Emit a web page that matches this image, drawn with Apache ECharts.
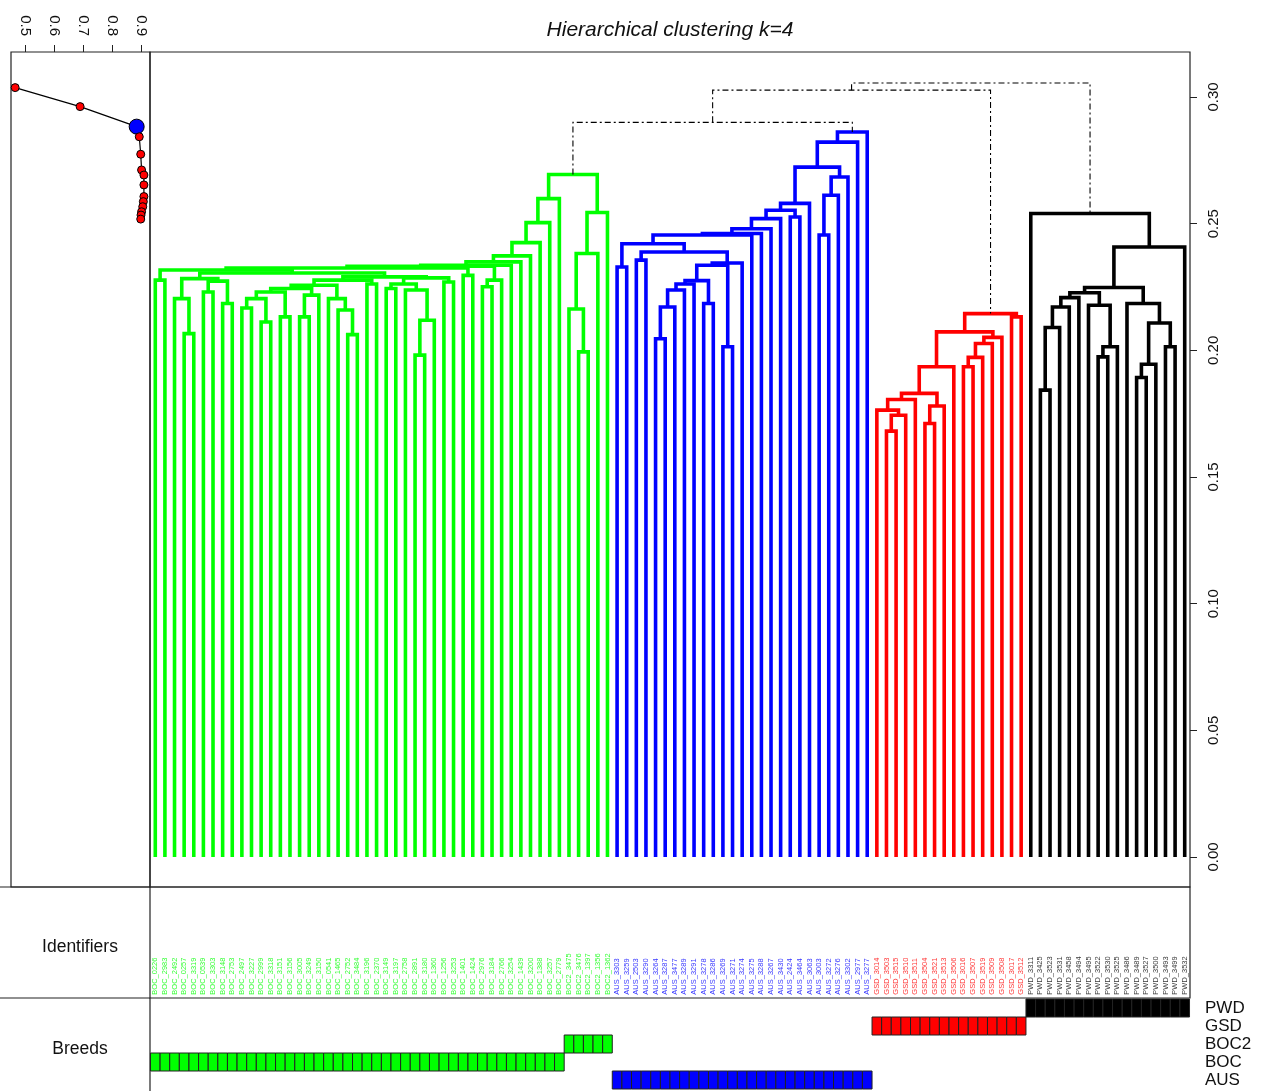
<!DOCTYPE html>
<html>
<head>
<meta charset="utf-8">
<script src="https://cdn.jsdelivr.net/npm/echarts@6/dist/echarts.min.js"></script>
<style>
html, body { margin: 0; padding: 0; background: #fff; }
#main { width: 1266px; height: 1091px; }
</style>
</head>
<body>
<div id="main"></div>
<script>
// leaf labels, left to right, one list per cluster
var greenLabels = ['BOC_0226','BOC_2983','BOC_2492','BOC_0257','BOC_3319','BOC_0539','BOC_3303','BOC_3148','BOC_2753','BOC_2497',
  'BOC_3227','BOC_2999','BOC_3318','BOC_3151','BOC_3156','BOC_3005','BOC_3249','BOC_3150','BOC_0541','BOC_1465',
  'BOC_2752','BOC_3484','BOC_3196','BOC_2370','BOC_3149','BOC_3197','BOC_2758','BOC_2891','BOC_3180','BOC_1360',
  'BOC_1256','BOC_3253','BOC_1401','BOC_1424','BOC_2976','BOC_3184','BOC_2766','BOC_3254','BOC_1439','BOC_3200',
  'BOC_1388','BOC_3257','BOC_2779','BOC2_3475','BOC2_3476','BOC2_1397','BOC2_1356','BOC2_1362'];
var blueLabels = ['AUS_3303','AUS_3259','AUS_2503','AUS_3290','AUS_3264','AUS_3287','AUS_3477','AUS_3289','AUS_3291','AUS_3278',
  'AUS_3286','AUS_3269','AUS_3271','AUS_3274','AUS_3275','AUS_3288','AUS_3267','AUS_3430','AUS_2424','AUS_3464',
  'AUS_3063','AUS_3003','AUS_3272','AUS_3276','AUS_3302','AUS_2977','AUS_3277'];
var redLabels = ['GSD_3014','GSD_3503','GSD_3515','GSD_3510','GSD_3511','GSD_3504','GSD_3521','GSD_3513','GSD_3506','GSD_3016',
  'GSD_3507','GSD_3519','GSD_3509','GSD_3508','GSD_3017','GSD_3512'];
var blackLabels = ['PWD_3311','PWD_3425','PWD_3523','PWD_3531','PWD_3458','PWD_3494','PWD_3495','PWD_3522','PWD_3530','PWD_3525',
  'PWD_3486','PWD_3489','PWD_3527','PWD_3500','PWD_3493','PWD_3499','PWD_3532'];

// merges as [height, left, right]; a number is a leaf (position inside its cluster)
var greenTree = [0.2694,
  [0.2599, [0.2504, [0.2425, [0.2373, [0.2349, [0.2336,
    [0.2332,
      [0.2325,
        [0.2317, [0.2277, 0, 1],
          [0.2305,
            [0.2283, [0.2204, 2, [0.2066, 3, 4]], [0.2273, [0.2230, 5, 6], [0.2185, 7, 8]]],
            [0.2290,
              [0.2277,
                [0.2257,
                  [0.2244, [0.2230, [0.2204, [0.2167, 9, 10], [0.2112, 11, 12]], [0.2132, 13, 14]], [0.2218, [0.2132, 15, 16], 17]],
                  [0.2204, 18, [0.2159, 19, [0.2062, 20, 21]]]],
                [0.2262, 22, 23]],
              [0.2286, [0.2262, [0.2244, 24, 25], [0.2238, 26, [0.2119, [0.1981, 27, 28], 29]]], [0.2270, 30, 31]]]]],
        [0.2296, 32, 33]],
      [0.2277, [0.2251, 34, 35], 36]],
    37], 38], 39], 40], 41], 42],
  [0.2544, [0.2382, [0.2163, 43, [0.1994, 44, 45]], 46], 47]];

var blueTree = [0.2862,
  [0.2822,
    [0.2723,
      [0.2580,
        [0.2553,
          [0.2520, [0.2480, [0.2461, [0.2455,
            [0.2421, [0.2329, 0, 1],
              [0.2388, [0.2356, 2, 3],
                [0.2345,
                  [0.2336,
                    [0.2275, [0.2262, [0.2238, [0.2171, [0.2046, 4, 5], 6], 7], 8], [0.2185, 9, 10]],
                    [0.2014, 11, 12]],
                  13]]],
            14], 15], 16], 17],
          [0.2526, 18, 19]],
        20],
      [0.2684, [0.2612, [0.2455, 21, 22], 23], 24]],
    25],
  26];

var redTree = [0.2145,
  [0.2073,
    [0.1935,
      [0.1830,
        [0.1806, [0.1764, 0, [0.1744, [0.1681, 1, 2], 3]], 4],
        [0.1780, [0.1711, 5, 6], 7]],
      8],
    [0.2051, [0.2027, [0.1972, [0.1935, 9, 10], 11], 12], 13]],
  [0.2132, 14, 15]];

var blackTree = [0.2540,
  0,
  [0.2408,
    [0.2248,
      [0.2227,
        [0.2208, [0.2171, [0.2090, [0.1843, 1, 2], 3], 4], 5],
        [0.2178, 6, [0.2014, [0.1974, 7, 8], 9]]],
      [0.2185, 10, [0.2108, [0.1945, [0.1893, 11, 12], 13], [0.2014, 14, 15]]]],
    16]];

// joins above the four clusters: green+blue, then +red, then +black
var topHeights = [0.2900, 0.3027, 0.3055];

// left panel: score for k = 2, 3, 4, ... drawn at the cut level
var kScores = [0.465, 0.689, 0.884, 0.893, 0.898, 0.901, 0.909, 0.909, 0.909, 0.907, 0.905, 0.901, 0.899, 0.898];
var kLevels = [0.3037, 0.2962, 0.2883, 0.2843, 0.2774, 0.2712, 0.2692, 0.2653, 0.2607, 0.2587, 0.2567, 0.2547, 0.2534, 0.2518];
var bestK = 4;

var breedNames = ['AUS', 'BOC', 'BOC2', 'GSD', 'PWD'];
var breedColors = ['#0000ff', '#00ff00', '#00ff00', '#ff0000', '#000000'];
var clusterColors = ['#00ff00', '#0000ff', '#ff0000', '#000000'];

var yMin = -0.01184, yMax = 0.31776;
var xMin = -0.55, xMax = 107.55;
var font = 'Liberation Sans, Arial, Helvetica, sans-serif';

function walk(node, offset, segs) {
    if (typeof node === 'number') return { x: offset + node, h: 0 };
    var a = walk(node[1], offset, segs);
    var b = walk(node[2], offset, segs);
    segs.push({ coords: [[a.x, a.h], [a.x, node[0]], [b.x, node[0]], [b.x, b.h]] });
    return { x: (a.x + b.x) / 2, h: node[0] };
}

var clusters = [
    { tree: greenTree, labels: greenLabels },
    { tree: blueTree, labels: blueLabels },
    { tree: redTree, labels: redLabels },
    { tree: blackTree, labels: blackLabels }
];

var series = [];
var roots = [];
var idData = [];
var breedData = [];
var offset = 0;
clusters.forEach(function (c, ci) {
    var segs = [];
    roots.push(walk(c.tree, offset, segs));
    series.push({
        type: 'lines', coordinateSystem: 'cartesian2d', xAxisIndex: 1, yAxisIndex: 1,
        polyline: true, silent: true, data: segs,
        lineStyle: { color: clusterColors[ci], width: 3.6, opacity: 1, join: 'miter', cap: 'butt' }
    });
    c.labels.forEach(function (lab, j) {
        idData.push({ value: [offset + j, 0.03], name: lab, label: { color: clusterColors[ci] } });
        breedData.push([offset + j, breedNames.indexOf(lab.split('_')[0])]);
    });
    offset += c.labels.length;
});

// dashed joins above the clusters
var dashed = [];
var gx = roots[0], bx = roots[1], rx = roots[2], kx = roots[3];
dashed.push({ coords: [[gx.x, gx.h], [gx.x, topHeights[0]], [bx.x, topHeights[0]], [bx.x, bx.h]] });
var gbX = (gx.x + bx.x) / 2;
dashed.push({ coords: [[gbX, topHeights[0]], [gbX, topHeights[1]], [rx.x, topHeights[1]], [rx.x, rx.h]] });
var gbrX = (gbX + rx.x) / 2;
dashed.push({ coords: [[gbrX, topHeights[1]], [gbrX, topHeights[2]], [kx.x, topHeights[2]], [kx.x, kx.h]] });
series.push({
    type: 'lines', coordinateSystem: 'cartesian2d', xAxisIndex: 1, yAxisIndex: 1,
    polyline: true, silent: true, data: dashed,
    lineStyle: { color: '#000', width: 1.1, opacity: 1, type: [6, 3, 2, 3] }
});

// k panel
var kData = kScores.map(function (s, i) {
    var item = { value: [s, kLevels[i]] };
    if (i + 2 === bestK) {
        item.symbolSize = 15;
        item.itemStyle = { color: '#0000ff', borderColor: '#000', borderWidth: 1 };
    }
    return item;
});
series.push({
    type: 'line', xAxisIndex: 0, yAxisIndex: 0, data: kData,
    symbol: 'circle', symbolSize: 8,
    lineStyle: { color: '#000', width: 1.2 },
    itemStyle: { color: '#ff0000', borderColor: '#000', borderWidth: 1 }
});

// identifiers
series.push({
    type: 'scatter', xAxisIndex: 2, yAxisIndex: 2, data: idData,
    symbolSize: 0, itemStyle: { color: 'transparent' }, silent: true,
    label: {
        show: true, formatter: '{b}', position: 'inside', rotate: 90,
        align: 'left', verticalAlign: 'middle', fontSize: 7.5, fontFamily: font
    },
    labelLayout: { hideOverlap: false }
});

// breeds
series.push({
    type: 'custom', xAxisIndex: 3, yAxisIndex: 3, data: breedData, silent: true,
    renderItem: function (params, api) {
        var c = api.coord([api.value(0), api.value(1)]);
        var s = api.size([1, 1]);
        return {
            type: 'rect',
            shape: { x: c[0] - s[0] / 2, y: c[1] - s[1] / 2, width: s[0], height: s[1] },
            style: { fill: breedColors[api.value(1)], stroke: '#222', lineWidth: 1 }
        };
    }
});

var heightTicks = [0, 0.05, 0.10, 0.15, 0.20, 0.25, 0.30];
var scoreTicks = [0.5, 0.6, 0.7, 0.8, 0.9];

var myChart = echarts.init(document.getElementById('main'));
var option = {
    animation: false,
    backgroundColor: '#fff',
    title: [
        { text: 'Hierarchical clustering k=4', left: 665, top: 15, textAlign: 'center',
          textStyle: { fontFamily: font, fontStyle: 'italic', fontWeight: 'normal', fontSize: 21, color: '#111' } },
        { text: 'Identifiers', left: 75, top: 933, textAlign: 'center',
          textStyle: { fontFamily: font, fontWeight: 'normal', fontSize: 17.5, color: '#111' } },
        { text: 'Breeds', left: 75, top: 1035, textAlign: 'center',
          textStyle: { fontFamily: font, fontWeight: 'normal', fontSize: 17.5, color: '#111' } }
    ],
    grid: [
        { left: 11, top: 52, width: 139, height: 835, show: true, borderColor: '#222', borderWidth: 1.2, backgroundColor: 'transparent' },
        { left: 150, top: 52, width: 1040, height: 835, show: true, borderColor: '#222', borderWidth: 1.2, backgroundColor: 'transparent' },
        { left: 150, top: 887, width: 1040, height: 111, show: true, borderColor: '#222', borderWidth: 1.2, backgroundColor: 'transparent' },
        { left: 150, top: 999, width: 1040, height: 90 }
    ],
    xAxis: [
        { gridIndex: 0, type: 'value', position: 'top', min: 0.4507, max: 0.930,
          axisLine: { show: false, onZero: false }, splitLine: { show: false },
          axisTick: { show: true, length: 7, customValues: scoreTicks, lineStyle: { color: '#222' } },
          axisLabel: { customValues: scoreTicks, rotate: 90, fontSize: 15, margin: 16, color: '#111', fontFamily: font } },
        { gridIndex: 1, type: 'value', min: xMin, max: xMax, show: false },
        { gridIndex: 2, type: 'value', min: xMin, max: xMax, show: false },
        { gridIndex: 3, type: 'value', min: xMin, max: xMax, show: false }
    ],
    yAxis: [
        { gridIndex: 0, type: 'value', min: yMin, max: yMax, show: false },
        { gridIndex: 1, type: 'value', min: yMin, max: yMax, position: 'right',
          axisLine: { show: false, onZero: false }, splitLine: { show: false },
          axisTick: { show: true, length: 7, customValues: heightTicks, lineStyle: { color: '#222' } },
          axisLabel: { customValues: heightTicks, rotate: 90, fontSize: 15, margin: 16, color: '#111', fontFamily: font,
                       formatter: function (v) { return v.toFixed(2); } } },
        { gridIndex: 2, type: 'value', min: 0, max: 1, show: false },
        { gridIndex: 3, type: 'category', data: breedNames, position: 'right',
          axisLine: { show: false, onZero: false }, axisTick: { show: false }, splitLine: { show: false },
          axisLabel: { interval: 0, fontSize: 17, margin: 15, color: '#111', fontFamily: font } }
    ],
    graphic: [
        { type: 'line', shape: { x1: 0, y1: 887, x2: 150, y2: 887 }, style: { stroke: '#222', lineWidth: 1.2 } },
        { type: 'line', shape: { x1: 0, y1: 998, x2: 150, y2: 998 }, style: { stroke: '#222', lineWidth: 1.2 } },
        { type: 'line', shape: { x1: 150, y1: 998, x2: 150, y2: 1091 }, style: { stroke: '#222', lineWidth: 1.2 } }
    ],
    series: series
};
myChart.setOption(option);
</script>
</body>
</html>
